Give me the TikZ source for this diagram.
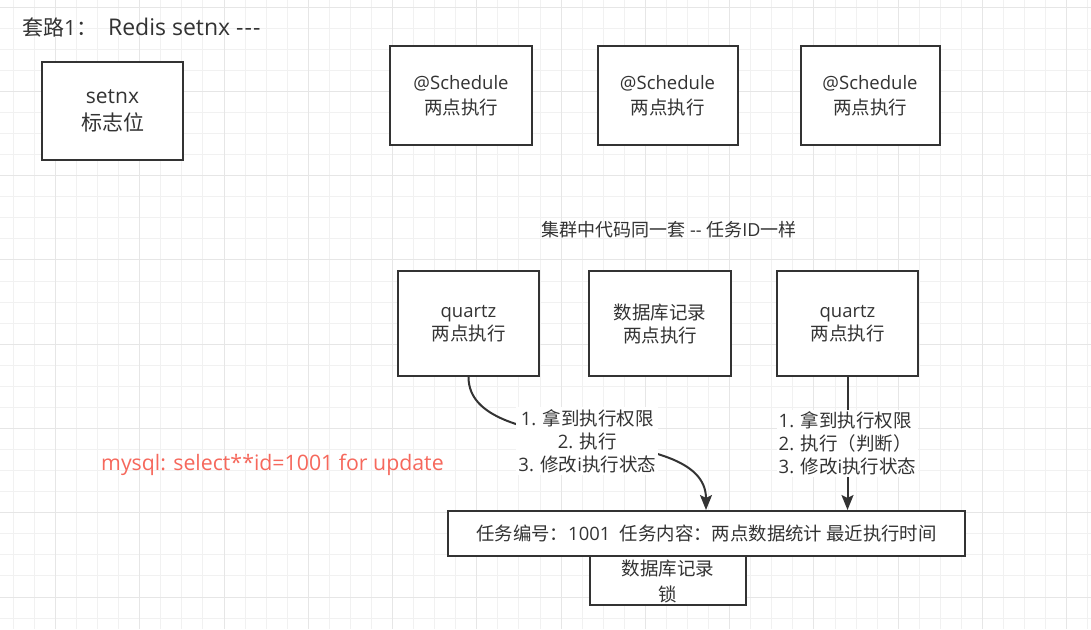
\documentclass[tikz,border=0pt]{standalone}
\usepackage{fontspec}
\setmainfont{Open Sans}
\newfontfamily\cjk{Noto Sans CJK SC}
\usetikzlibrary{arrows.meta}
\definecolor{ink}{HTML}{333333}
\definecolor{gridminor}{RGB}{241,241,241}
\definecolor{gridmajor}{RGB}{230,230,230}
\definecolor{redtxt}{RGB}{246,104,92}
\newcommand{\zhs}[1]{{\cjk #1}}
\tikzset{
  box/.style={draw=ink, line width=2pt, fill=white, text=ink, align=center, inner sep=0pt},
  lbl/.style={fill=white, text=ink, inner sep=2pt},
  plain/.style={text=ink, inner sep=0pt},
  conn/.style={draw=ink, line width=2pt, -{Stealth[length=15pt,width=12pt,inset=3pt]}},
}
\begin{document}
\begin{tikzpicture}[x=1pt,y=-1pt]
\useasboundingbox (0,0) rectangle (1091,629);
\fill[white] (0,0) rectangle (1091,629);
% grid
\foreach \i in {0,...,51} {\draw[gridminor, line width=1pt] ({13.3+21.07*\i},0) -- ++(0,629);}
\foreach \j in {0,...,29} {\draw[gridminor, line width=1pt] (0,{7.1+21.07*\j}) -- ++(1091,0);}
\foreach \i in {2,6,...,50} {\draw[gridmajor, line width=1pt] ({13.3+21.07*\i},0) -- ++(0,629);}
\foreach \j in {0,4,...,28} {\draw[gridmajor, line width=1pt] (0,{7.1+21.07*\j}) -- ++(1091,0);}

% title
\node[plain, anchor=west, font=\fontsize{21}{25}\selectfont] (title) at (22,28) {\zhs{套路}1\zhs{：}\ \ {\fontsize{23}{25}\selectfont Redis setnx -\kern1pt-\kern1pt-}};

% setnx box
\node[box, minimum width=141pt, minimum height=98pt, font=\fontsize{21}{27}\selectfont] (setnx) at (112.5,111) {setnx\\\zhs{标志位}};

% schedule boxes
\node[box, minimum width=142pt, minimum height=99pt, font=\fontsize{18.5}{25}\selectfont] (s1) at (461,95.5) {@Schedule\\\zhs{两点执行}};
\node[box, minimum width=140pt, minimum height=99pt, font=\fontsize{18.5}{25}\selectfont] (s2) at (667.5,95.5) {@Schedule\\\zhs{两点执行}};
\node[box, minimum width=139pt, minimum height=99pt, font=\fontsize{18.5}{25}\selectfont] (s3) at (870,95.5) {@Schedule\\\zhs{两点执行}};

% cluster text
\node[plain, font=\fontsize{18}{22}\selectfont] (cluster) at (669,230) {\zhs{集群中代码同一套} -{}- \zhs{任务}ID\zhs{一样}};

% quartz row
\node[box, minimum width=141pt, minimum height=105pt, font=\fontsize{18.5}{23}\selectfont] (q1) at (468.5,323.5) {quartz\\\zhs{两点执行}};
\node[box, minimum width=142pt, minimum height=105pt, font=\fontsize{18.5}{23}\selectfont] (db) at (660,323.5) {\zhs{数据库记录}\\\zhs{两点执行}};
\node[box, minimum width=141pt, minimum height=105pt, font=\fontsize{18.5}{23}\selectfont] (q3) at (847.5,323.5) {quartz\\\zhs{两点执行}};

% red text
\node[plain, anchor=west, text=redtxt, font=\fontsize{21.3}{25}\selectfont] (sql) at (101,465) {mysql: select**id=1001 for update};

% lock box (behind)
\node[box, minimum width=156pt, minimum height=75pt] (lock) at (668,567.5) {};
\node[plain, align=center, font=\fontsize{18.5}{26}\selectfont] (locktxt) at (668,581) {\zhs{数据库记录}\\\zhs{锁}};

% big record box
\node[box, minimum width=517pt, minimum height=45pt, font=\fontsize{18.4}{22}\selectfont] (big) at (706.5,533.5) {\zhs{任务编号：}1001\ \ \zhs{任务内容：两点数据统计 最近执行时间}};

% connectors
\coordinate (e1x) at (706,0);
\draw[conn] (q1.south) .. controls +(0,84) and +(0,-91) .. (big.north -| e1x)
  node[pos=0.5, lbl, align=center, font=\fontsize{18.5}{23}\selectfont] (l1) {1. \zhs{拿到执行权限}\\2. \zhs{执行}\\3. \zhs{修改}i\zhs{执行状态}};
\draw[conn] (q3.south) -- (q3.south |- big.north)
  node[pos=0.5, lbl, align=left, font=\fontsize{18.5}{23}\selectfont] (l2) {1. \zhs{拿到执行权限}\\2. \zhs{执行（判断）}\\3. \zhs{修改}i\zhs{执行状态}};
\end{tikzpicture}
\end{document}
